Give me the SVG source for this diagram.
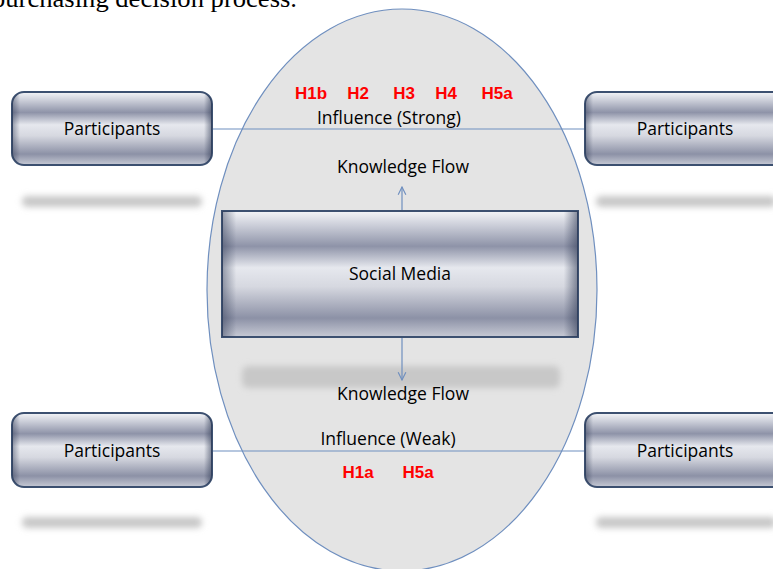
<svg xmlns="http://www.w3.org/2000/svg" width="773" height="569" viewBox="0 0 773 569">
<defs>
<linearGradient id="metal" x1="0" y1="0" x2="0" y2="1">
<stop offset="0" stop-color="#f4f5f8"/>
<stop offset="0.12" stop-color="#c9ccd7"/>
<stop offset="0.28" stop-color="#8e93a8"/>
<stop offset="0.45" stop-color="#e6e8ee"/>
<stop offset="0.6" stop-color="#d6d8e0"/>
<stop offset="0.85" stop-color="#8c91a6"/>
<stop offset="1" stop-color="#c7cad5"/>
</linearGradient>
<linearGradient id="edge" x1="0" y1="0" x2="1" y2="0">
<stop offset="0" stop-color="#2a3550" stop-opacity="0.45"/>
<stop offset="0.04" stop-color="#2a3550" stop-opacity="0"/>
<stop offset="0.96" stop-color="#2a3550" stop-opacity="0"/>
<stop offset="1" stop-color="#2a3550" stop-opacity="0.55"/>
</linearGradient>
<filter id="blur" x="-20%" y="-100%" width="140%" height="300%">
<feGaussianBlur stdDeviation="3"/>
</filter>
<marker id="arr" viewBox="0 0 10 10" refX="9" refY="5" markerWidth="8" markerHeight="8" orient="auto">
<path d="M1,1 L9,5 L1,9" fill="none" stroke="#6f8fbf" stroke-width="1.2"/>
</marker>
<style>
.box{fill:url(#metal);stroke:#3c5070;stroke-width:2}
.edge{fill:url(#edge)}
.shadow{fill:#c8c8c8;filter:url(#blur)}
.lbl{font-family:"Open Sans","Liberation Sans",sans-serif;font-size:17.5px;fill:#000;text-anchor:middle}
.red{font-family:"Liberation Sans",sans-serif;font-size:17px;font-weight:bold;fill:#ff0000;text-anchor:middle}
.conn{stroke:#6f8fbf;stroke-width:1.2;fill:none}
</style>
</defs>
<rect width="773" height="569" fill="#ffffff"/>
<text x="-8" y="7" font-family="Liberation Serif,serif" font-size="26" fill="#000" textLength="305" lengthAdjust="spacingAndGlyphs">purchasing decision process.</text>
<ellipse cx="402" cy="290" rx="195" ry="281" fill="#e4e4e4" stroke="#6f8fbf" stroke-width="1.2"/>
<g id="shadows">
<rect class="shadow" x="22" y="196" width="180" height="11" rx="5"/>
<rect class="shadow" x="596" y="196" width="180" height="11" rx="5"/>
<rect class="shadow" x="22" y="517" width="180" height="11" rx="5"/>
<rect class="shadow" x="596" y="517" width="180" height="11" rx="5"/>
<rect class="shadow" x="242" y="366" width="318" height="22" rx="6"/>
</g>
<g id="connectors">
<line class="conn" x1="212" y1="129" x2="585" y2="129"/>
<line class="conn" x1="212" y1="451" x2="585" y2="451"/>
<line class="conn" x1="402" y1="211" x2="402" y2="187" marker-end="url(#arr)"/>
<line class="conn" x1="402" y1="338" x2="402" y2="380" marker-end="url(#arr)"/>
</g>
<g id="p1">
<rect class="box" x="12" y="92" width="200" height="73" rx="12"/>
<rect class="edge" x="12" y="92" width="200" height="73" rx="12"/>
<text class="lbl" x="112" y="135">Participants</text>
</g>
<g id="p2">
<rect class="box" x="585" y="92" width="200" height="73" rx="12"/>
<rect class="edge" x="585" y="92" width="200" height="73" rx="12"/>
<text class="lbl" x="685" y="135">Participants</text>
</g>
<g id="p3">
<rect class="box" x="12" y="413" width="200" height="74" rx="12"/>
<rect class="edge" x="12" y="413" width="200" height="74" rx="12"/>
<text class="lbl" x="112" y="457">Participants</text>
</g>
<g id="p4">
<rect class="box" x="585" y="413" width="200" height="74" rx="12"/>
<rect class="edge" x="585" y="413" width="200" height="74" rx="12"/>
<text class="lbl" x="685" y="457">Participants</text>
</g>
<g id="sm">
<rect class="box" x="222" y="211" width="356" height="126"/>
<rect class="edge" x="222" y="211" width="356" height="126"/>
<text class="lbl" x="400" y="280">Social Media</text>
</g>
<g id="labels">
<text class="red" x="311" y="99">H1b</text>
<text class="red" x="358" y="99">H2</text>
<text class="red" x="404" y="99">H3</text>
<text class="red" x="446" y="99">H4</text>
<text class="red" x="497" y="99">H5a</text>
<text class="lbl" x="389" y="124">Influence (Strong)</text>
<text class="lbl" x="403" y="173">Knowledge Flow</text>
<text class="lbl" x="403" y="400">Knowledge Flow</text>
<text class="lbl" x="388" y="445">Influence (Weak)</text>
<text class="red" x="358" y="478">H1a</text>
<text class="red" x="418" y="478">H5a</text>
</g>
</svg>
